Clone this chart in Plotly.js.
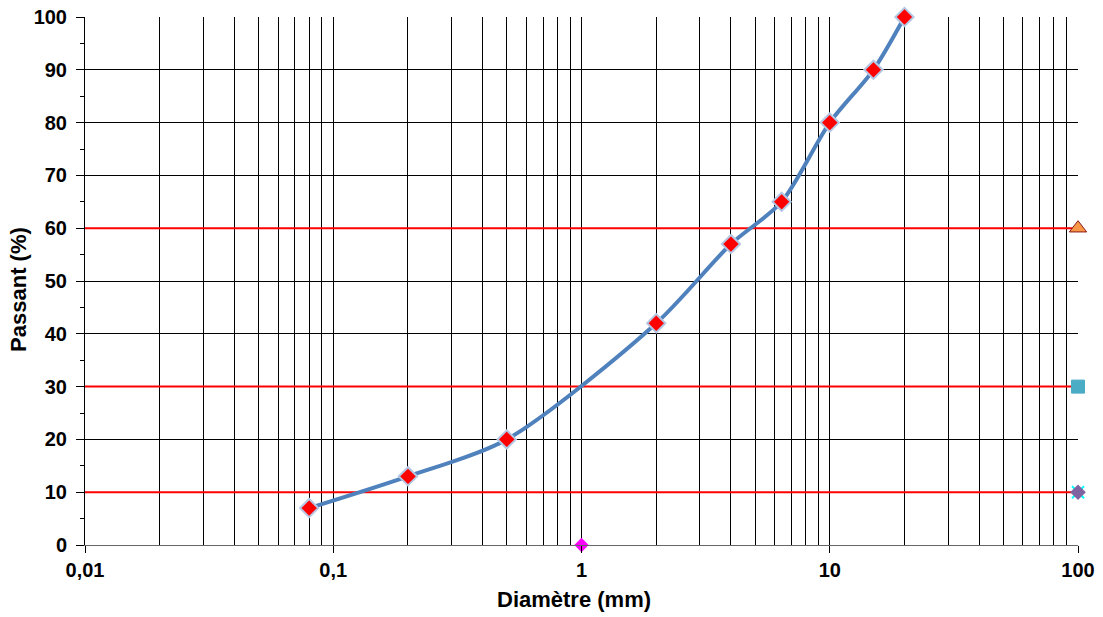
<!DOCTYPE html>
<html>
<head>
<meta charset="utf-8">
<script src="https://cdn.plot.ly/plotly-3.0.1.min.js"></script>
<style>html,body{margin:0;padding:0;background:#fff;}#chart{width:1103px;height:617px;}</style>
</head>
<body>
<div id="chart"></div>
<script>
// Granulometric curve data
const diameters = [0.08, 0.2, 0.5, 2, 4, 6.4, 10, 15, 20];
const passing   = [7, 13, 20, 42, 57, 65, 80, 90, 100];

// Reference horizontal levels (%)
const levelX = [0.01, 100];
const level10 = [10, 10];
const level30 = [30, 30];
const level60 = [60, 60];

// Single markers
const pointD10 = {x: [100], y: [10]};
const pointD30 = {x: [100], y: [30]};
const pointD60 = {x: [100], y: [60]};
const pointOrigin = {x: [1], y: [0]};

// Axis tick labels and titles
const xTickVals = [0.01, 0.1, 1, 10, 100];
const xTickText = ['0,01', '0,1', '1', '10', '100'];
const xTitle = 'Diamètre (mm)';
const yTitle = 'Passant (%)';

const fontFam = '"Liberation Sans", Arial, sans-serif';
const titleFont = {family: fontFam, size: 22, color: '#000', weight: 700};

const traces = [
  {x: levelX, y: level10, mode: 'lines', line: {color: '#ff0000', width: 2}, hoverinfo: 'skip'},
  {x: levelX, y: level30, mode: 'lines', line: {color: '#ff0000', width: 2}, hoverinfo: 'skip'},
  {x: levelX, y: level60, mode: 'lines', line: {color: '#ff0000', width: 2}, hoverinfo: 'skip'},
  {x: diameters, y: passing, mode: 'lines+markers',
   line: {color: '#4f81bd', width: 4, shape: 'spline', smoothing: 0.8},
   marker: {symbol: 'diamond', size: 14, color: '#ff0000', line: {color: '#b4c7e3', width: 2}},
   cliponaxis: false},
  {x: pointD60.x, y: pointD60.y, mode: 'markers', cliponaxis: false,
   marker: {symbol: 'triangle-up', size: 15, color: '#f79646', line: {color: '#8b1a1a', width: 1}}},
  {x: pointD30.x, y: pointD30.y, mode: 'markers', cliponaxis: false,
   marker: {symbol: 'square', size: 13, color: '#4bacc6', line: {color: '#4bacc6', width: 1}}},
  {x: pointD10.x, y: pointD10.y, mode: 'markers', cliponaxis: false,
   marker: {symbol: 'x-thin', size: 12, color: '#00ffff', line: {color: '#00ffff', width: 2}}},
  {x: pointD10.x, y: pointD10.y, mode: 'markers', cliponaxis: false,
   marker: {symbol: 'diamond', size: 12, color: '#8064a2', line: {width: 0}}},
  {x: pointOrigin.x, y: pointOrigin.y, mode: 'markers', cliponaxis: false,
   marker: {symbol: 'diamond', size: 11, color: '#ff00ff', line: {width: 0}}}
];

const layout = {
  width: 1103, height: 617,
  margin: {l: 85, r: 25, t: 17, b: 72},
  paper_bgcolor: '#fff', plot_bgcolor: '#fff',
  showlegend: false,
  font: {family: fontFam, size: 20, color: '#000', weight: 700},
  xaxis: {
    type: 'log', range: [-2, 2],
    tickmode: 'array', tickvals: xTickVals, ticktext: xTickText,
    showgrid: true, gridcolor: '#000', gridwidth: 1,
    minor: {dtick: 'D1', showgrid: true, gridcolor: '#000', gridwidth: 1, ticks: ''},
    ticks: 'outside', ticklen: 7, tickcolor: '#000',
    showline: true, linecolor: '#666', linewidth: 1,
    zeroline: false,
    tickfont: {family: fontFam, size: 20, color: '#000', weight: 700}
  },
  yaxis: {
    range: [0, 100], dtick: 10, tick0: 0,
    showgrid: true, gridcolor: '#000', gridwidth: 1,
    minor: {dtick: 5, ticks: 'outside', ticklen: 4, tickcolor: '#000', showgrid: false},
    ticks: 'outside', ticklen: 8, tickcolor: '#000',
    ticklabelstandoff: 5,
    showline: true, linecolor: '#000', linewidth: 1,
    zeroline: false,
    tickfont: {family: fontFam, size: 20, color: '#000', weight: 700}
  },
  annotations: [
    {text: xTitle, xref: 'paper', yref: 'paper', x: 0.492, y: -0.104,
     xanchor: 'center', yanchor: 'middle', showarrow: false, font: titleFont},
    {text: yTitle, xref: 'paper', yref: 'paper', x: -0.0665, y: 0.485,
     xanchor: 'center', yanchor: 'middle', textangle: -90, showarrow: false, font: titleFont}
  ]
};

Plotly.newPlot('chart', traces, layout, {displayModeBar: false, staticPlot: true});
</script>
</body>
</html>
